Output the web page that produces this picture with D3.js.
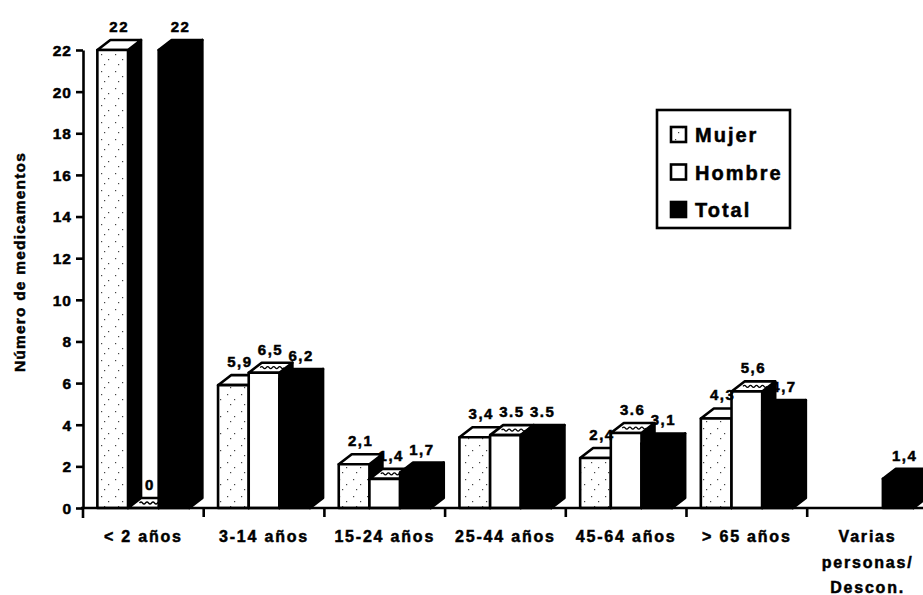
<!DOCTYPE html>
<html><head><meta charset="utf-8">
<script src="https://cdn.jsdelivr.net/npm/d3@7"></script>
<style>
body{margin:0;background:#fff}
text{font-family:"Liberation Sans",Arial,sans-serif;font-weight:bold;fill:#000;stroke:#000;stroke-width:0.5px}
</style>
</head><body>
<svg id="c" width="923" height="595"></svg>
<script>
// ---- data ----
const categories = ["< 2 años","3-14 años","15-24 años","25-44 años","45-64 años","> 65 años","Varias personas/ Descon."];
const categoryLines = [["< 2 años"],["3-14 años"],["15-24 años"],["25-44 años"],["45-64 años"],["> 65 años"],["Varias","personas/","Descon."]];
const series = ["Mujer","Hombre","Total"];
const mujer  = [22, 5.9, 2.1, 3.4, 2.4, 4.3, null];
const hombre = [0, 6.5, 1.4, 3.5, 3.6, 5.6, null];
const total  = [22, 6.2, 1.7, 3.5, 3.1, 4.7, 1.4];
const mujerLabels  = ["22","5,9","2,1","3,4","2,4","4,3",""];
const hombreLabels = ["0","6,5","1,4","3.5","3.6","5,6",""];
const totalLabels  = ["22","6,2","1,7","3.5","3,1","4,7","1,4"];
const yTicks = [0,2,4,6,8,10,12,14,16,18,20,22];
const yTitle = "Número de medicamentos";

// ---- layout ----
const svg = d3.select("#c");
const x0 = 83, step = 120.7;
const x = d3.scaleBand().domain(categories).range([x0, x0 + step*categories.length]).padding(0);
const y = d3.scaleLinear().domain([0,22]).range([508, 50]);
const groupW = 92;
const xs = d3.scaleBand().domain(series).range([0, groupW]).padding(0);
const dx = 13, dy = 10;
const SW = 2.6;

// patterns
const defs = svg.append("defs");
const pat = defs.append("pattern").attr("id","stip").attr("patternUnits","userSpaceOnUse")
  .attr("width",14).attr("height",17);
pat.append("rect").attr("width",14).attr("height",17).attr("fill","#fff");
[[3,3],[10,8],[6,13]].forEach(p=>pat.append("rect").attr("x",p[0]).attr("y",p[1]).attr("width",1.2).attr("height",1.2).attr("fill","#444"));

const valuesBySeries = {Mujer: mujer, Hombre: hombre, Total: total};
const labelsBySeries = {Mujer: mujerLabels, Hombre: hombreLabels, Total: totalLabels};
const frontFill = {Mujer: "url(#stip)", Hombre: "#fff", Total: "#000"};
const topFill = {Mujer: "#fff", Hombre: "#fff", Total: "#000"};

const bars = svg.append("g");
categories.forEach((cat, i) => {
  const gx = x(cat) + (x.bandwidth() - groupW)/2;
  series.forEach(s => {
    const v = valuesBySeries[s][i];
    if (v === null) return;
    const L = gx + xs(s), w = xs.bandwidth(), R = L + w;
    const yt = y(v), yb = y(0);
    const g = bars.append("g").attr("stroke","#000").attr("stroke-width",SW).attr("stroke-linejoin","round");
    // side
    g.append("path").attr("d", `M${R},${yt}L${R+dx},${yt-dy}L${R+dx},${yb-dy}L${R},${yb}Z`).attr("fill","#000");
    // top
    g.append("path").attr("d", `M${L},${yt}L${L+dx},${yt-dy}L${R+dx},${yt-dy}L${R},${yt}Z`).attr("fill", topFill[s]);
    if (s === "Hombre") {
      const p = d3.path();
      const cy = yt - dy/2;
      let xx = L + dx/2 + 5;
      p.moveTo(xx, cy);
      while (xx < R + dx/2 - 5) { p.quadraticCurveTo(xx+1.5, cy-2, xx+3, cy); p.quadraticCurveTo(xx+4.5, cy+2, xx+6, cy); xx += 6; }
      bars.append("path").attr("d", p.toString()).attr("fill","none").attr("stroke","#000").attr("stroke-width",1.3);
    }
    // front
    if (yb - yt > 0.5)
      g.append("rect").attr("x",L).attr("y",yt).attr("width",w).attr("height",yb-yt).attr("fill", frontFill[s]);
    // value label
    svg.append("text").attr("x", L + w/2 + dx/2).attr("y", yt - dy - 8)
      .attr("text-anchor","middle").attr("font-size",15).attr("letter-spacing",1.5)
      .text(labelsBySeries[s][i]);
  });
});

// ---- y axis ----
const yAxis = svg.append("g").attr("transform",`translate(${x0},0)`)
  .call(d3.axisLeft(y).tickValues(yTicks).tickSize(7).tickSizeOuter(0).tickPadding(4).tickFormat(d3.format("d")));
yAxis.attr("font-family",null).attr("font-size",null);
yAxis.select(".domain").attr("stroke","#000").attr("stroke-width",SW);
yAxis.selectAll(".tick line").attr("stroke","#000").attr("stroke-width",SW);
yAxis.selectAll(".tick text").attr("font-size",15.5).attr("letter-spacing",1).attr("dy","0.35em");
svg.append("line").attr("x1",x0).attr("x2",x0).attr("y1",y(0)).attr("y2",y(0)+10).attr("stroke","#000").attr("stroke-width",SW);

// ---- x axis ----
svg.append("line").attr("x1",x0-2).attr("x2",923).attr("y1",y(0)).attr("y2",y(0)).attr("stroke","#000").attr("stroke-width",SW);
categories.slice(1).forEach(c => {
  svg.append("line").attr("x1",x(c)).attr("x2",x(c)).attr("y1",y(0)).attr("y2",y(0)+9).attr("stroke","#000").attr("stroke-width",SW);
});
categories.forEach((c,i) => {
  const t = svg.append("text").attr("text-anchor","middle").attr("font-size",16).attr("letter-spacing",1.8);
  categoryLines[i].forEach((ln,k) => {
    t.append("tspan").attr("x", x(c) + x.bandwidth()/2).attr("y", 542 + k*25.5).text(ln);
  });
});

// ---- y title ----
svg.append("text").attr("transform","translate(25,262) rotate(-90)").attr("text-anchor","middle")
  .attr("font-size",15.5).attr("letter-spacing",1.2).text(yTitle);

// ---- legend ----
const lg = svg.append("g");
lg.append("rect").attr("x",657).attr("y",110).attr("width",133).attr("height",118)
  .attr("fill","#fff").attr("stroke","#000").attr("stroke-width",SW);
const legY = d3.scalePoint().domain(series).range([135, 210]);
series.forEach(s => {
  lg.append("rect").attr("x",671).attr("y",legY(s)-8).attr("width",15).attr("height",15)
    .attr("fill", s==="Total" ? "#000" : (s==="Mujer" ? "url(#stip)" : "#fff"))
    .attr("stroke","#000").attr("stroke-width",2.6);
  lg.append("text").attr("x",695).attr("y",legY(s)+7).attr("font-size",20).attr("letter-spacing",2).text(s);
});
</script>
</body></html>
